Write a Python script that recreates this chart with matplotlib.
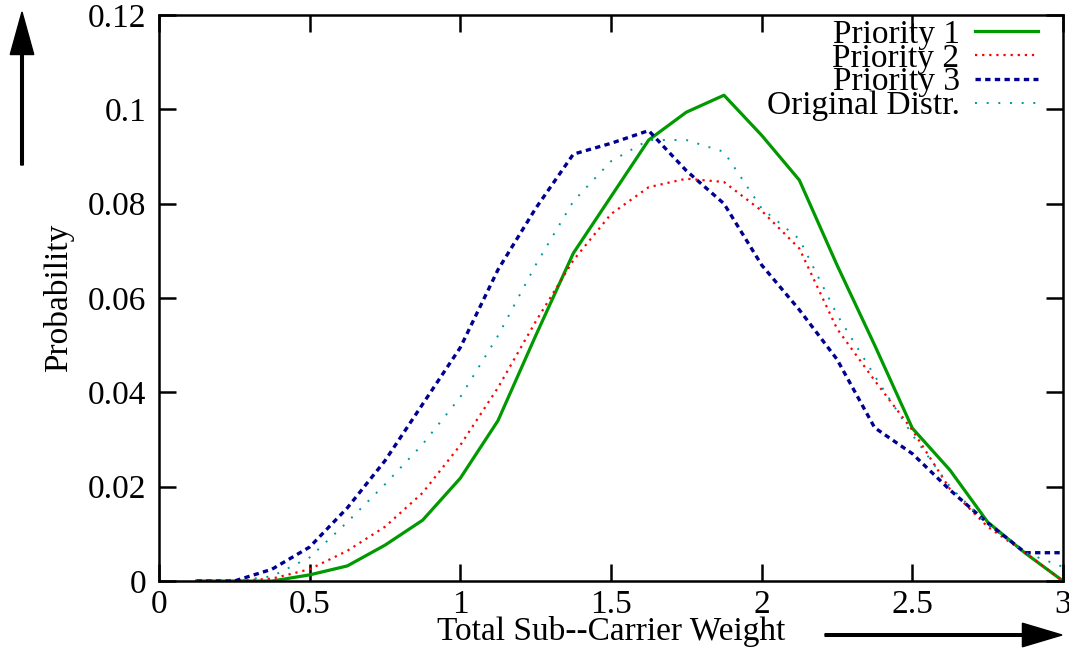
import matplotlib
matplotlib.use("Agg")
import matplotlib.pyplot as plt

plt.rcParams["font.family"] = "serif"
plt.rcParams["font.serif"] = ["Liberation Serif", "DejaVu Serif"]

# x grid of the distributions
x = [0.125, 0.25, 0.375, 0.5, 0.625, 0.75, 0.875, 1.0, 1.125, 1.25, 1.375, 1.5,
     1.625, 1.75, 1.875, 2.0, 2.125, 2.25, 2.375, 2.5, 2.625, 2.75, 2.875, 3.0]

prio1 = [0.0, 0.0, 0.0, 0.0013, 0.0032, 0.0076, 0.0129, 0.0218, 0.034, 0.052, 0.0695, 0.0815,
         0.0935, 0.0994, 0.103, 0.0945, 0.085, 0.067, 0.050, 0.0324, 0.0235, 0.0125, 0.0059, 0.0]
prio2 = [0.0, 0.0, 0.0005, 0.0025, 0.0064, 0.0115, 0.0187, 0.0288, 0.041, 0.055, 0.068, 0.0778,
         0.0835, 0.0853, 0.0846, 0.0785, 0.0705, 0.0535, 0.0425, 0.032, 0.0195, 0.0115, 0.006, 0.0]
prio3 = [0.0, 0.0, 0.0025, 0.0072, 0.0155, 0.0255, 0.0375, 0.0495, 0.066, 0.079, 0.0905, 0.0928,
         0.0955, 0.087, 0.080, 0.067, 0.0575, 0.047, 0.0325, 0.027, 0.0193, 0.0123, 0.006, 0.006]
orig = [0.0, 0.0, 0.001, 0.005, 0.0125, 0.0205, 0.029, 0.039, 0.052, 0.067, 0.0805, 0.089,
        0.0935, 0.0935, 0.091, 0.079, 0.0725, 0.0565, 0.0435, 0.031, 0.020, 0.012, 0.006, 0.003]

labels = ["Priority 1", "Priority 2", "Priority 3", "Original Distr."]

fig = plt.figure(figsize=(10.69, 6.54), dpi=100)
ax = fig.add_axes([0.1487, 0.1116, 0.8457, 0.8654])

ax.plot(x, prio1, color="#009900", lw=2.3, ls="-", label=labels[0])
ax.plot(x, prio2, color="#FF0000", lw=1.6, ls=(0, (1, 2.2)), label=labels[1])
ax.plot(x, prio3, color="#000090", lw=2.4, ls=(0, (1.6, 1.3)), label=labels[2])
ax.plot(x, orig, color="#009999", lw=1.4, ls=(0, (1, 5)), label=labels[3])

ax.set_xlim(0, 3)
ax.set_ylim(0, 0.12)
ax.set_xticks([0, 0.5, 1, 1.5, 2, 2.5, 3])
ax.set_xticklabels(["0", "0.5", "1", "1.5", "2", "2.5", "3"])
ax.set_yticks([0, 0.02, 0.04, 0.06, 0.08, 0.1, 0.12])
ax.set_yticklabels(["0", "0.02", "0.04", "0.06", "0.08", "0.1", "0.12"])
ax.tick_params(direction="in", length=12, width=1.8, top=True, right=True,
               labelsize=24, pad=9)
ax.tick_params(axis="x", pad=6)
for s in ax.spines.values():
    s.set_linewidth(1.8)

ax.set_xlabel("Total Sub--Carrier Weight", fontsize=24, labelpad=-3)
ax.set_ylabel("Probability", fontsize=24, labelpad=10)

ax.legend(loc="upper right", frameon=False, markerfirst=False, fontsize=24,
          labelspacing=-0.2, handlelength=1.9, handletextpad=0.45,
          borderaxespad=0.0, bbox_to_anchor=(0.987, 1.016))

# axis direction arrows
fig.patches.append(matplotlib.patches.FancyArrow(
    22 / 1069, 1 - 165 / 654, 0, (165 - 12) / 654, width=0.0025,
    head_width=0.022, head_length=0.065, length_includes_head=True,
    color="black", transform=fig.transFigure, figure=fig))
fig.patches.append(matplotlib.patches.FancyArrow(
    825 / 1069, 1 - 635 / 654, (1062 - 825) / 1069, 0, width=0.004,
    head_width=0.036, head_length=0.037, length_includes_head=True,
    color="black", transform=fig.transFigure, figure=fig))

fig.savefig("out.png", dpi=100)
